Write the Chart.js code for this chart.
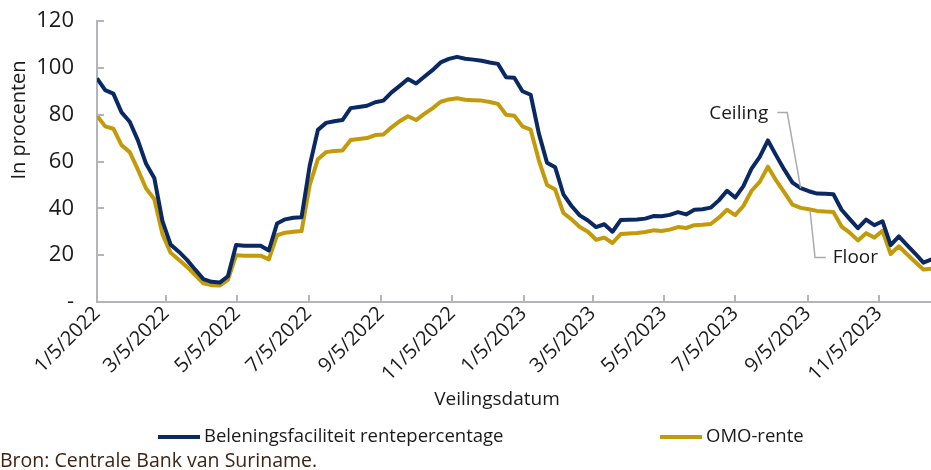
<!DOCTYPE html>
<html>
<head>
<meta charset="utf-8">
<script src="https://cdn.jsdelivr.net/npm/chart.js@4.4.0/dist/chart.umd.min.js"></script>
<style>
  html, body { margin: 0; padding: 0; background: #fff; }
  #wrap { position: relative; width: 931px; height: 470px; }
</style>
</head>
<body>
<div id="wrap"><canvas id="chart" width="931" height="470"></canvas></div>
<script>
// Beleningsfaciliteit vs OMO-rente, wekelijkse veilingen vanaf 1/5/2022

const FIRST_AUCTION = '1/5/2022';
const AUCTION_STEP_DAYS = 7;

const tickDates = ['1/5/2022', '3/5/2022', '5/5/2022', '7/5/2022', '9/5/2022', '11/5/2022',
                   '1/5/2023', '3/5/2023', '5/5/2023', '7/5/2023', '9/5/2023', '11/5/2023'];
const yTicks = [0, 20, 40, 60, 80, 100, 120];

const seriesNames = ['Beleningsfaciliteit rentepercentage', 'OMO-rente'];

// Ceiling
const beleningsRente = [
  95.5, 90.5, 89, 81, 77, 69, 59, 53, 34.5, 24.5,
  21.5, 18, 13.8, 9.8, 8.6, 8.3, 11, 24.3, 24, 24,
  24, 22, 33.5, 35.3, 36, 36.2, 58.3, 73.5, 76.5, 77.2,
  77.7, 82.8, 83.3, 83.8, 85.3, 86, 89.5, 92.3, 95.2, 93.3,
  96.2, 99, 102.3, 103.8, 104.7, 103.9, 103.5, 103, 102.3, 101.7,
  96, 95.8, 90, 88.5, 72, 59.5, 57.5, 46, 41, 37,
  34.8, 32, 33.2, 30, 35, 35.1, 35.2, 35.6, 36.7, 36.6,
  37.2, 38.4, 37.4, 39.4, 39.6, 40.3, 43.4, 47.5, 44.6, 49.5,
  57, 62, 69, 62.6, 56.5, 51, 48.6, 47.3, 46.3, 46.2,
  46, 39.4, 35.4, 31.5, 35.2, 32.8, 34.5, 24.3, 28, 24.3,
  20.7, 16.8, 18.2
];

// Floor
const omoRente = [
  79.5, 75, 74, 67, 64, 56.5, 48.5, 44, 29, 21,
  18, 15, 11.5, 8, 7.2, 7, 9.5, 20, 19.8, 19.8,
  19.8, 18.2, 28.5, 29.6, 30, 30.3, 50, 61, 64, 64.5,
  64.7, 69.2, 69.6, 70, 71.3, 71.5, 74.6, 77.2, 79.3, 77.7,
  80.3, 82.7, 85.5, 86.5, 87, 86.4, 86.2, 86, 85.4, 84.6,
  80, 79.5, 75, 73.6, 60.5, 50, 48, 38, 35.3, 32,
  30, 26.6, 27.5, 25.2, 29, 29.3, 29.5, 29.9, 30.6, 30.3,
  30.9, 32, 31.6, 32.8, 33, 33.3, 36, 39.4, 37.1, 41,
  47.5, 51.3, 57.8, 51.9, 46.8, 41.6, 40.2, 39.6, 38.9, 38.6,
  38.4, 32.2, 29.6, 26.3, 29.4, 27.5, 30.4, 20.5, 23.8, 20.4,
  17.1, 13.9, 14.2
];

const NAVY = '#0a2862';
const GOLD = '#c39a0a';
const AXIS = '#b3b5b8';
const FONT = "'Open Sans', sans-serif";

// m/d/yyyy -> days since first auction
function dayIndex(str) {
  const [m, d, y] = str.split('/').map(Number);
  const [m0, d0, y0] = FIRST_AUCTION.split('/').map(Number);
  return Math.round((Date.UTC(y, m - 1, d) - Date.UTC(y0, m0 - 1, d0)) / 86400000);
}

function toPoints(values) {
  return values.map((v, i) => ({ x: i * AUCTION_STEP_DAYS, y: v }));
}

// annotation anchors in data units (days, percent)
const ceilingNote = { text: 'Ceiling', x: 549, y: 80.5, path: [[582, 80.9], [590.5, 80.9], [602, 48.6]] };
const floorNote = { text: 'Floor', x: 629.5, y: 18.8, path: [[610, 39.2], [614.3, 19], [623.5, 19]] };

const extras = {
  id: 'extras',
  afterDraw(chart) {
    const ctx = chart.ctx;
    const xs = chart.scales.x, ys = chart.scales.y;
    const area = chart.chartArea;
    ctx.save();

    // inner tick marks
    ctx.strokeStyle = AXIS;
    ctx.lineWidth = 2;
    ctx.beginPath();
    yTicks.forEach(v => {
      const py = Math.round(ys.getPixelForValue(v));
      ctx.moveTo(area.left, py);
      ctx.lineTo(area.left + 7, py);
    });
    tickDates.forEach(t => {
      const px = Math.round(xs.getPixelForValue(dayIndex(t)));
      ctx.moveTo(px, area.bottom);
      ctx.lineTo(px, area.bottom - 7);
    });
    ctx.stroke();

    // axis titles
    ctx.fillStyle = '#1a1a1a';
    ctx.font = '20px ' + FONT;
    ctx.textAlign = 'center';
    ctx.textBaseline = 'middle';
    ctx.save();
    ctx.translate(19, 120);
    ctx.rotate(-Math.PI / 2);
    ctx.fillText('In procenten', 0, 0);
    ctx.restore();
    ctx.font = '19px ' + FONT;
    ctx.fillText('Veilingsdatum', 497, 400);

    // legend
    const legend = [[seriesNames[0], NAVY, 158], [seriesNames[1], GOLD, 660]];
    ctx.textAlign = 'left';
    ctx.font = '18.5px ' + FONT;
    legend.forEach(([name, color, lx]) => {
      ctx.strokeStyle = color;
      ctx.lineWidth = 4;
      ctx.beginPath();
      ctx.moveTo(lx, 437);
      ctx.lineTo(lx + 42, 437);
      ctx.stroke();
      ctx.fillStyle = '#1a1a1a';
      ctx.fillText(name, lx + 46, 437);
    });

    // source
    ctx.fillStyle = '#3f2412';
    ctx.font = '19.5px ' + FONT;
    ctx.fillText('Bron: Centrale Bank van Suriname.', 0, 461);

    // ceiling / floor notes
    ctx.font = '19px ' + FONT;
    [ceilingNote, floorNote].forEach((n, k) => {
      ctx.strokeStyle = '#a9acaf';
      ctx.lineWidth = 1.5;
      ctx.beginPath();
      n.path.forEach(([dx, dy], i) => {
        const px = xs.getPixelForValue(dx), py = ys.getPixelForValue(dy);
        if (i === 0) ctx.moveTo(px, py); else ctx.lineTo(px, py);
      });
      ctx.stroke();
      ctx.fillStyle = '#1a1a1a';
      ctx.textAlign = k === 0 ? 'center' : 'left';
      ctx.fillText(n.text, xs.getPixelForValue(n.x), ys.getPixelForValue(n.y));
    });

    ctx.restore();
  }
};

new Chart(document.getElementById('chart'), {
  type: 'line',
  data: {
    datasets: [
      { label: seriesNames[0], data: toPoints(beleningsRente), borderColor: NAVY, borderWidth: 4,
        pointRadius: 0, tension: 0, fill: false, borderJoinStyle: 'round' },
      { label: seriesNames[1], data: toPoints(omoRente), borderColor: GOLD, borderWidth: 4,
        pointRadius: 0, tension: 0, fill: false, borderJoinStyle: 'round' }
    ]
  },
  options: {
    responsive: false,
    animation: false,
    events: [],
    layout: { padding: { top: 21, left: 0, right: 0, bottom: 0 } },
    plugins: { legend: { display: false }, tooltip: { enabled: false } },
    scales: {
      x: {
        type: 'linear',
        min: 0,
        max: 713.5,
        afterBuildTicks: s => { s.ticks = tickDates.map(t => ({ value: dayIndex(t) })); },
        afterFit: s => { s.height = 168; },
        grid: { display: false, drawTicks: false },
        border: { display: true, color: AXIS, width: 2 },
        ticks: {
          autoSkip: false, minRotation: 45, maxRotation: 45, padding: 0,
          color: '#1a1a1a', font: { family: FONT, size: 20 },
          callback: v => tickDates.find(t => dayIndex(t) === v) || ''
        }
      },
      y: {
        min: 0,
        max: 120,
        afterBuildTicks: s => { s.ticks = yTicks.map(v => ({ value: v })); },
        // label padding would otherwise push the plot top down
        afterFit: s => { s.width = 97; s.paddingTop = 0; s.paddingBottom = 0; },
        grid: { display: false, drawTicks: false },
        border: { display: true, color: AXIS, width: 2 },
        ticks: {
          padding: 23, color: '#1a1a1a', font: { family: FONT, size: 22 },
          callback: v => v === 0 ? '-' : String(v)
        }
      }
    }
  },
  plugins: [extras]
});
</script>
</body>
</html>
